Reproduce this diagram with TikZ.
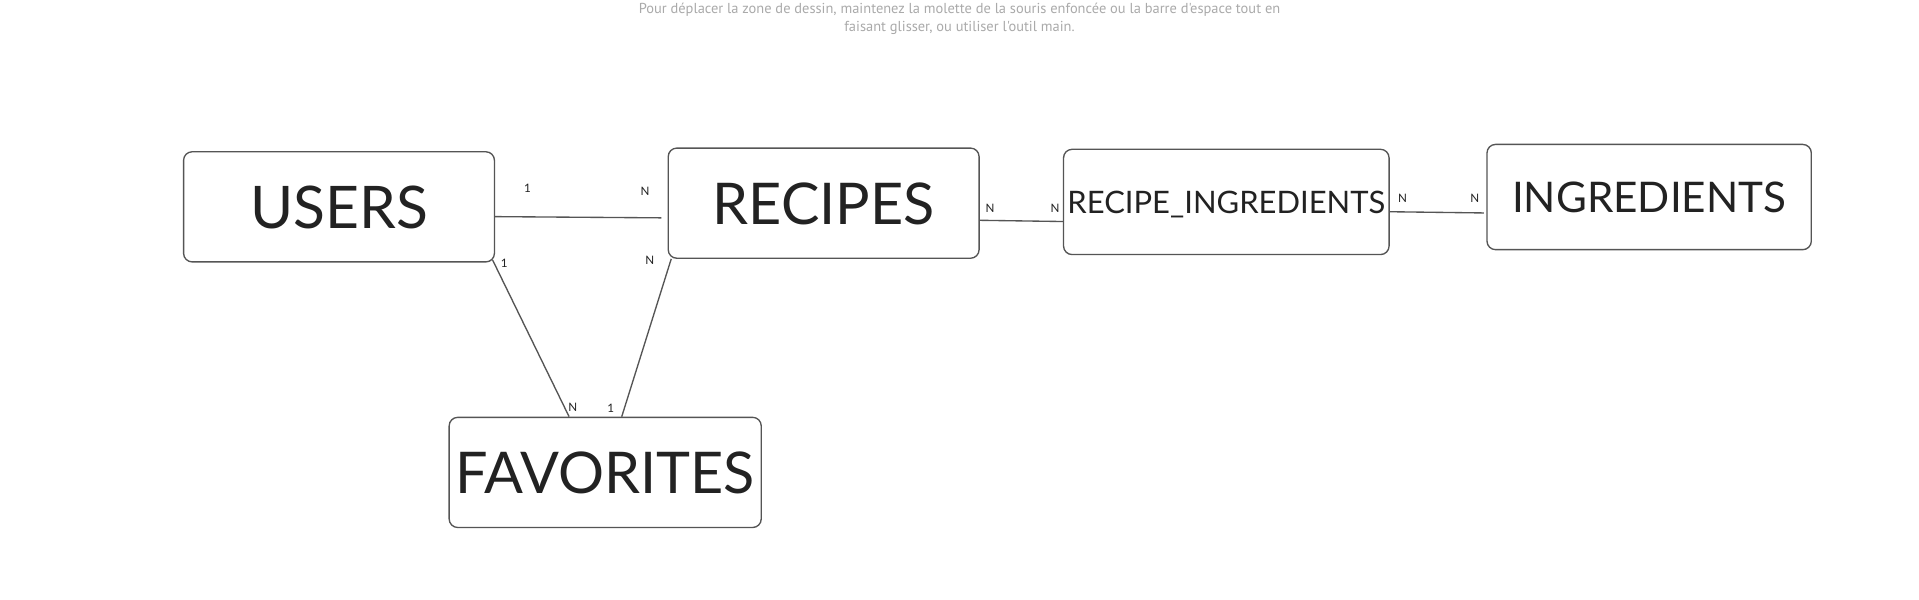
\documentclass[tikz,border=0pt]{standalone}
\usepackage{fontspec}
\setmainfont{Lato}
\newfontfamily\hintfont{PT Sans}
\usepackage{tikz}
\usepackage{xcolor}
\usetikzlibrary{shapes,arrows,positioning}

\definecolor{boxline}{HTML}{555555}
\definecolor{boxtext}{HTML}{222222}
\definecolor{hintgray}{HTML}{AAAAAA}

\begin{document}
\begin{tikzpicture}[
    x=1pt, y=-1pt,
    entity/.style={rectangle, draw=boxline, line width=1.1pt, rounded corners=7pt, minimum width=254pt, minimum height=90pt, inner sep=0pt, text depth=0pt, text=boxtext, align=center},
    card/.style={font=\fontsize{9.5}{11}\selectfont, text=boxtext, inner sep=0pt},
    link/.style={draw=boxline, line width=1.1pt}
]

\fill[white] (0,0) rectangle (1568,490);
\useasboundingbox (0,0) rectangle (1568,490);

% hint
\node[text=hintgray, font=\hintfont\fontsize{11.8}{15}\selectfont, align=center] (hint) at (784,15.5) {Pour déplacer la zone de dessin, maintenez la molette de la souris enfoncée ou la barre d'espace tout en\\faisant glisser, ou utiliser l'outil main.};

% Entities
\node[entity, font=\fontsize{48}{58}\selectfont] (users) at (277,169) {USERS};
\node[entity, font=\fontsize{47}{56}\selectfont] (recipes) at (673,166) {RECIPES};
\node[entity, minimum width=266pt, minimum height=86pt, font=\fontsize{25.3}{30}\selectfont] (recing) at (1002,165) {RECIPE\_INGREDIENTS};
\node[entity, minimum width=265pt, minimum height=86pt, font=\fontsize{34.5}{41}\selectfont] (ingredients) at (1347.5,161) {INGREDIENTS};
\node[entity, minimum width=255pt, font=\fontsize{47}{56}\selectfont] (favorites) at (494.5,386) {FAVORITES};

% Connections
\draw[link] ([yshift=-8pt]users.east) -- ([xshift=-5pt,yshift=-12pt]recipes.west);
\draw[link] ([xshift=-2pt,yshift=2pt]users.south east) -- ([xshift=-29.5pt]favorites.north);
\draw[link] ([xshift=3pt]recipes.south west) -- ([xshift=13.5pt]favorites.north);
\draw[link] ([yshift=-14pt]recipes.east) -- ([yshift=-16pt]recing.west);
\draw[link] ([yshift=-8pt]recing.east) -- ([xshift=-2pt,yshift=-13pt]ingredients.west);

% Cardinalities
\node[card] (c1) at (431,154) {1};
\node[card] (c2) at (527,156) {N};
\node[card] (c3) at (412,215) {1};
\node[card] (c4) at (468,333) {N};
\node[card] (c5) at (531,213) {N};
\node[card] (c6) at (499,334) {1};
\node[card] (c7) at (809,170) {N};
\node[card] (c8) at (862,170) {N};
\node[card] (c9) at (1146,162) {N};
\node[card] (c10) at (1205,162) {N};

\end{tikzpicture}
\end{document}
